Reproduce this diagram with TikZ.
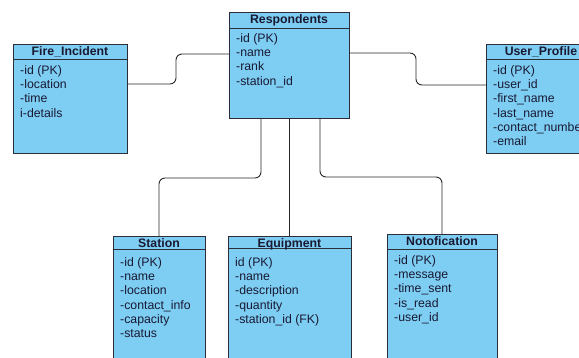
\documentclass[tikz,border=0pt]{standalone}
\usepackage{fontspec}
\setmainfont{Liberation Sans}
\usetikzlibrary{calc}
\definecolor{boxfill}{RGB}{126,206,244}
\definecolor{boxdraw}{RGB}{45,45,55}
\definecolor{txtcol}{RGB}{25,25,50}
\definecolor{linkcol}{RGB}{40,40,40}
\tikzset{
  ebox/.style={draw=boxdraw, fill=boxfill, line width=1pt, rectangle, anchor=north west, inner sep=0pt, outer sep=0pt},
  eline/.style={draw=boxdraw, line width=1pt},
  etitle/.style={anchor=base, inner sep=0pt, font=\fontsize{12.3}{14}\selectfont\bfseries, text=txtcol},
  eattr/.style={anchor=base west, inner sep=0pt, font=\fontsize{12.3}{14}\selectfont, text=txtcol},
  link/.style={draw=linkcol, line width=0.9pt, rounded corners=6pt}
}
\newcommand{\erbox}[8]{%
  % #1 name, #2 x, #3 y, #4 w, #5 h, #6 header height, #7 title, #8 attributes
  \node[ebox, minimum width=#4pt, minimum height=#5pt] (#1) at (#2,#3) {};
  \draw[eline] ($(#1.north west)+(0,#6)$) -- ($(#1.north east)+(0,#6)$);
  \node[etitle] (#1-t) at ($(#1.north)+(0,11.5)$) {#7};
  \foreach \a [count=\i] in {#8} {
    \node[eattr] (#1-a\i) at ($(#1.north west)+(7,30.5+14.2*\i-14.2)$) {\a};
  }%
}
\begin{document}
\begin{tikzpicture}[x=1pt,y=-1pt]
\useasboundingbox (0,0) rectangle (579,357);
\clip (0,0) rectangle (579,357);

\erbox{fire}{13}{44}{114}{109}{15}{Fire\_Incident}{-id (PK),-location,-time,i-details}
\erbox{resp}{229}{12}{120}{106}{16}{Respondents}{-id (PK),-name,-rank,-station\_id}
\erbox{user}{486}{44}{110}{109}{15}{User\_Profile}{-id (PK),-user\_id,-first\_name,-last\_name,-contact\_number,-email}
\erbox{station}{113}{236}{92}{140}{13}{Station}{-id (PK),-name,-location,-contact\_info,-capacity,-status}
\erbox{equip}{228}{236}{123}{140}{12}{Equipment}{id (PK),-name,-description,-quantity,-station\_id (FK)}
\erbox{notif}{387}{234}{110}{140}{15}{Notofication}{-id (PK),-message,-time\_sent,-is\_read,-user\_id}

% connectors
\coordinate (fA) at ($(fire.north east)+(0,40)$);
\coordinate (rL) at ($(resp.north west)+(0,42)$);
\draw[link] (fA) -- (176,84) -- (176,54) -- (rL);

\coordinate (rR) at ($(resp.north east)+(0,41)$);
\coordinate (uL) at ($(user.north west)+(0,41)$);
\draw[link] (rR) -- (416,53) -- (416,85) -- (uL);

\coordinate (rB1) at (261,118);
\draw[link] (rB1) -- (261,178) -- (station.north |- 0,178) -- (station.north);

\draw[link] (resp.south -| equip.north) -- (equip.north);

\coordinate (rB3) at (320,118);
\draw[link] (rB3) -- (320,177) -- (notif.north |- 0,177) -- (notif.north);
\end{tikzpicture}
\end{document}
